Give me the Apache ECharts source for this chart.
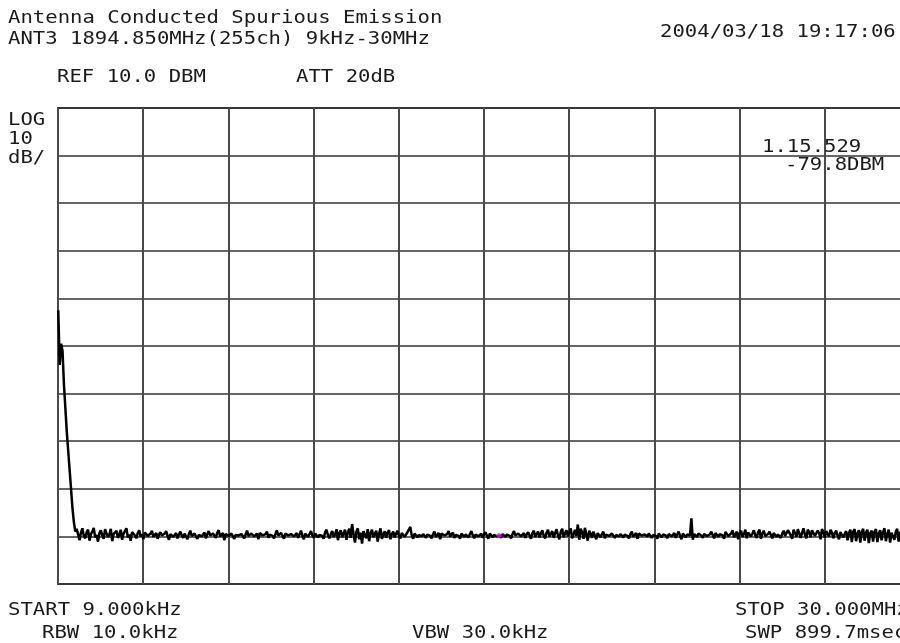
<!DOCTYPE html>
<html>
<head>
<meta charset="utf-8">
<script src="https://cdn.jsdelivr.net/npm/echarts@6/dist/echarts.min.js"></script>
<style>
html,body{margin:0;padding:0;background:#fff;overflow:hidden;}
#chart{width:910px;height:643px;}
</style>
</head>
<body>
<div id="chart"></div>
<script>
// ---- data ----
const startMHz = 0.009;
const stopMHz = 30.0;
const refLevelDBm = 10;
const dbPerDiv = 10;
const markerFreqMHz = 15.529;
const markerLevelDBm = -79.8;

// trace levels (dBm), sweep points evenly spaced from START to STOP
const levelsDBm = [
 -32.5,-44,-39.5,-41,-48,-53,-58,-62,-66,-70,
 -74,-77,-79,-78.4,-79.6,-80.8,-79.2,-78.3,-79.9,-80.4,
 -79.1,-78.6,-80.9,-79.5,-79.0,-78.2,-80.2,-79.7,-81.1,-79.3,
 -78.7,-79.8,-80.5,-78.5,-79.4,-80.1,-79.6,-78.4,-81.0,-79.5,
 -79.2,-78.8,-80.3,-79.7,-78.6,-80.7,-79.4,-79.0,-78.3,-80.2,
 -79.6,-80.9,-79.1,-78.9,-79.8,-80.4,-79.3,-78.7,-80.0,-79.5,
 -80.6,-79.2,-79.0,-79.9,-80.3,-79.4,-78.8,-80.1,-79.7,-79.3,
 -80.5,-79.6,-79.1,-79.8,-80.2,-79.4,-78.9,-79.9,-80.7,-79.5,
 -79.2,-80.1,-79.7,-79.3,-80.4,-79.6,-79.0,-79.8,-80.3,-79.4,
 -79.1,-80.6,-79.5,-78.8,-79.9,-80.2,-79.4,-79.0,-80.5,-79.7,
 -79.3,-80.0,-79.6,-79.2,-80.4,-79.5,-78.9,-79.8,-80.1,-79.4,
 -79.7,-80.3,-79.2,-78.7,-80.0,-79.6,-79.3,-80.8,-79.5,-79.1,
 -79.9,-80.2,-79.4,-79.0,-80.5,-79.7,-79.3,-79.8,-80.1,-79.5,
 -79.2,-80.4,-79.6,-78.8,-79.9,-80.3,-79.4,-79.1,-80.0,-79.7,
 -79.4,-80.6,-79.3,-78.9,-79.8,-80.2,-79.5,-79.0,-80.3,-79.6,
 -79.2,-79.9,-80.4,-79.5,-78.7,-79.8,-80.1,-79.3,-79.6,-80.5,
 -79.4,-79.0,-79.8,-80.2,-79.5,-79.1,-80.0,-79.7,-79.3,-80.3,
 -79.6,-78.8,-79.9,-80.6,-79.4,-79.2,-80.1,-79.5,-78.9,-79.8,
 -80.3,-79.4,-79.0,-80.2,-79.7,-79.3,-79.9,-80.5,-79.1,-78.6,
 -79.8,-80.4,-79.5,-78.9,-80.1,-79.6,-78.5,-80.8,-79.3,-78.7,
 -80.2,-79.4,-78.6,-80.7,-79.1,-78.4,-80.3,-77.4,-79.5,-81.3,
 -79.0,-78.3,-80.6,-79.2,-81.5,-78.9,-79.7,-80.4,-78.5,-81.0,
 -79.3,-78.6,-80.2,-79.5,-78.8,-81.1,-79.4,-78.3,-80.5,-79.6,
 -78.9,-80.3,-79.2,-78.7,-80.6,-79.5,-79.0,-80.2,-79.4,-78.8,
 -79.9,-80.4,-79.3,-79.0,-80.1,-79.6,-79.2,-78.6,-78.0,-79.8,
 -80.5,-79.4,-79.0,-80.2,-79.7,-79.3,-80.0,-79.5,-79.1,-80.3,
 -79.6,-79.2,-79.9,-80.4,-79.5,-79.0,-80.1,-79.7,-79.3,-80.6,
 -79.4,-79.1,-79.8,-80.2,-79.5,-78.9,-80.0,-79.6,-79.2,-80.3,
 -79.7,-79.3,-79.9,-80.5,-79.4,-79.0,-80.1,-79.6,-79.3,-80.2,
 -79.5,-78.9,-79.8,-80.4,-79.6,-79.2,-80.0,-79.7,-79.4,-80.3,
 -79.6,-79.1,-79.9,-80.5,-79.4,-79.0,-80.2,-79.7,-79.3,-80.0,
 -79.6,-79.8,-80.3,-79.5,-79.1,-80.1,-79.6,-79.2,-79.9,-80.4,
 -79.5,-78.9,-79.8,-80.2,-79.4,-79.0,-80.0,-79.7,-79.3,-80.3,
 -79.6,-79.1,-79.8,-80.5,-79.3,-78.8,-80.1,-79.5,-79.0,-80.2,
 -79.4,-78.7,-79.9,-80.4,-79.2,-78.6,-80.0,-79.5,-78.9,-80.3,
 -79.3,-78.5,-79.8,-80.6,-79.0,-78.4,-80.2,-79.4,-78.7,-80.0,
 -79.2,-78.3,-80.4,-79.6,-78.6,-79.9,-77.5,-80.7,-78.4,-79.1,
 -80.5,-78.2,-79.6,-80.9,-78.8,-79.4,-80.3,-79.0,-78.9,-80.6,
 -79.3,-79.7,-80.2,-79.5,-79.0,-80.4,-79.6,-79.2,-79.9,-80.1,
 -79.4,-79.0,-80.3,-79.7,-79.3,-80.0,-79.5,-79.1,-80.2,-79.6,
 -79.2,-79.9,-80.4,-79.5,-79.0,-80.1,-79.7,-79.3,-80.5,-79.4,
 -79.1,-79.8,-80.2,-79.6,-79.2,-80.0,-79.4,-79.0,-80.3,-79.7,
 -79.3,-79.9,-80.5,-79.4,-79.0,-80.2,-79.6,-79.2,-79.8,-80.4,
 -79.5,-79.1,-80.0,-79.7,-79.3,-80.3,-79.6,-79.0,-79.9,-80.6,
 -79.4,-79.1,-80.2,-79.6,-79.3,-79.8,-76.2,-80.7,-79.5,-79.1,
 -80.1,-79.4,-79.0,-79.8,-80.3,-79.5,-79.1,-79.9,-80.2,-79.6,
 -79.0,-79.7,-80.4,-79.3,-78.9,-80.1,-79.5,-79.2,-79.8,-80.5,
 -79.1,-78.8,-79.9,-80.3,-79.4,-78.7,-80.2,-79.6,-79.0,-80.6,
 -79.3,-78.8,-80.1,-79.5,-78.6,-80.4,-79.2,-78.9,-80.0,-79.4,
 -78.7,-79.8,-80.3,-79.1,-78.6,-80.5,-79.4,-78.8,-79.9,-80.2,
 -79.5,-79.0,-79.7,-80.4,-79.3,-78.9,-80.1,-79.6,-79.2,-80.3,
 -79.4,-78.8,-79.9,-80.2,-78.7,-78.4,-79.8,-80.5,-78.6,-79.3,
 -80.1,-78.5,-78.9,-80.3,-79.2,-78.3,-79.7,-80.4,-78.6,-79.1,
 -80.2,-78.7,-78.4,-79.9,-80.1,-78.8,-79.3,-80.6,-78.5,-79.0,
 -80.3,-78.9,-79.5,-80.0,-78.6,-79.2,-80.4,-79.3,-78.8,-79.9,
 -80.6,-79.1,-78.7,-80.2,-79.5,-78.9,-80.8,-79.3,-78.6,-81.2,
 -79.0,-78.5,-81.0,-79.4,-78.7,-81.3,-79.1,-78.4,-80.9,-79.2,
 -78.6,-81.4,-79.3,-78.8,-81.1,-79.0,-78.5,-81.2,-79.4,-78.7,
 -80.8,-79.1,-78.3,-81.0,-79.5,-78.6,-81.3,-79.2,-78.9,-80.7,
 -79.0,-78.4,-81.1,-79.3,-78.7,-80.9,-79.6,-78.5,-81.0,-79.2,
 -79.7
];

// annotation texts
const headerTexts = [
  'Antenna Conducted Spurious Emission',
  'ANT3 1894.850MHz(255ch) 9kHz-30MHz',
  '2004/03/18 19:17:06',
  'REF 10.0 DBM',
  'ATT 20dB'
];
const scaleTexts = ['LOG', '10', 'dB/'];
const markerTexts = ['1.15.529', '-79.8DBM'];
const footerTexts = [
  'START 9.000kHz',
  'RBW 10.0kHz',
  'VBW 30.0kHz',
  'STOP 30.000MHz',
  'SWP 899.7msec'
];

// ---- layout (positions only) ----
const headerPos = [[8,18],[8,39],[660,32],[57,77],[296,77]];
const scalePos = [[8,120],[8,139],[8,158]];
const markerPos = [[762,147],[785,165]];
const footerPos = [[8,610],[42,633],[412,633],[735,610],[745,633]];

const N = levelsDBm.length;
const traceData = levelsDBm.map((v, i) => [startMHz + i * (stopMHz - startMHz) / (N - 1), v]);

function textEls(strs, pos) {
  return strs.map((s, i) => ({
    type: 'text',
    x: pos[i][0],
    y: pos[i][1],
    scaleX: 1.145,
    z: 100,
    style: {
      text: s,
      x: 0, y: 0,
      fill: '#1a1a1a',
      font: '18px "DejaVu Sans Mono", "Liberation Mono", monospace',
      align: 'left',
      verticalAlign: 'middle'
    }
  }));
}

const chart = echarts.init(document.getElementById('chart'), null, {renderer: 'canvas'});
chart.setOption({
  animation: false,
  backgroundColor: '#ffffff',
  grid: {left: 58, top: 108, right: 0, height: 476, show: true, borderColor: '#444', borderWidth: 2, backgroundColor: 'transparent'},
  xAxis: {
    type: 'value', min: 0, max: 30, interval: 3,
    axisLine: {show: false}, axisTick: {show: false}, axisLabel: {show: false},
    splitLine: {show: true, lineStyle: {color: '#4a4a4a', width: 2}}
  },
  yAxis: {
    type: 'value', min: refLevelDBm - 10 * dbPerDiv, max: refLevelDBm, interval: dbPerDiv,
    axisLine: {show: false}, axisTick: {show: false}, axisLabel: {show: false},
    splitLine: {show: true, lineStyle: {color: '#333', width: 1.5}}
  },
  series: [
    {
      type: 'line',
      data: traceData,
      showSymbol: false,
      clip: true,
      lineStyle: {color: '#000', width: 2.5},
      z: 5
    },
    {
      type: 'scatter',
      data: [[markerFreqMHz, markerLevelDBm]],
      symbol: 'diamond',
      symbolSize: 6,
      itemStyle: {color: '#ff00ff'},
      z: 6
    }
  ],
  graphic: [].concat(
    textEls(headerTexts, headerPos),
    textEls(scaleTexts, scalePos),
    textEls(markerTexts, markerPos),
    textEls(footerTexts, footerPos)
  )
});
</script>
</body>
</html>
